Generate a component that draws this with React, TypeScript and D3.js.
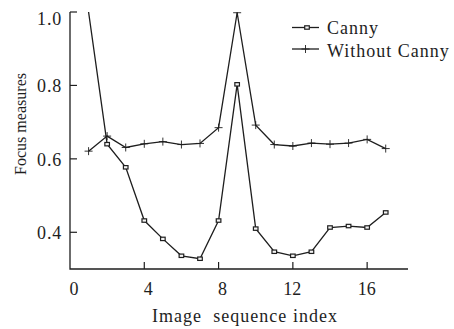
import React from "react";
import * as d3 from "d3";

// Image indices and focus measure values for the two methods
const indices = [1, 2, 3, 4, 5, 6, 7, 8, 9, 10, 11, 12, 13, 14, 15, 16, 17];
const cannyValues = [1.0, 0.64, 0.577, 0.432, 0.382, 0.336, 0.328, 0.432, 0.803, 0.41, 0.347, 0.336, 0.347, 0.413, 0.417, 0.413, 0.454];
const withoutCannyValues = [0.621, 0.662, 0.631, 0.641, 0.647, 0.639, 0.642, 0.685, 0.998, 0.692, 0.639, 0.635, 0.643, 0.64, 0.643, 0.653, 0.628];
const xTicks = [0, 4, 8, 12, 16];
const yTicks = [0.4, 0.6, 0.8, 1.0];
const seriesNames = ["Canny", "Without Canny"];

const W = 454;
const H = 329;
const FONT = "'Liberation Serif', 'Times New Roman', serif";
const INK = "#1e1e1e";

export default function App() {
  const x = d3.scaleLinear().domain([0, 18.2]).range([70, 408]);
  const y = d3.scaleLinear().domain([0.3, 1.0]).range([269, 12]);

  const line = d3
    .line<[number, number]>()
    .x((d) => x(d[0]))
    .y((d) => y(d[1]));

  const canny: [number, number][] = indices.map((i, k) => [i, cannyValues[k]]);
  const plain: [number, number][] = indices.map((i, k) => [i, withoutCannyValues[k]]);

  const square = (cx: number, cy: number, key: string) => (
    <rect key={key} x={cx - 2.3} y={cy - 1.7} width={4.6} height={3.4} fill="#f4f4f4" stroke={INK} strokeWidth={1.2} />
  );
  const plus = (cx: number, cy: number, key: string) => (
    <path key={key} d={`M${cx - 4},${cy}H${cx + 4}M${cx},${cy - 4}V${cy + 4}`} stroke={INK} strokeWidth={0.9} fill="none" />
  );

  return (
    <svg
      width={W}
      height={H}
      style={{ position: "absolute", left: 0, top: 0, background: "#fff" }}
      fontFamily={FONT}
    >
      <defs>
        <clipPath id="plotArea">
          <rect x={70} y={12} width={340} height={258} />
        </clipPath>
      </defs>

      {/* axes */}
      <path d={`M${x(0)},${y(1.0)}V${y(0.3)}H${x(18.2)}`} fill="none" stroke={INK} strokeWidth={1.3} />
      {yTicks.map((t) => (
        <g key={`yt${t}`}>
          <line x1={x(0)} x2={x(0) + 7} y1={y(t)} y2={y(t)} stroke={INK} strokeWidth={1.2} />
          <text
            x={62}
            y={Math.max(y(t) + 7, 25)}
            textAnchor="end"
            fontSize={18}
            letterSpacing={0.8}
            fill={INK}
          >
            {t.toFixed(1)}
          </text>
        </g>
      ))}
      {xTicks.map((t) => (
        <g key={`xt${t}`}>
          {t > 0 && <line x1={x(t)} x2={x(t)} y1={y(0.3)} y2={y(0.3) - 7} stroke={INK} strokeWidth={1.2} />}
          <text x={x(t) + 8.5} y={295} textAnchor="end" fontSize={18} fill={INK}>
            {t}
          </text>
        </g>
      ))}

      {/* axis titles */}
      <text
        x={244.5}
        y={321.5}
        textAnchor="middle"
        fontSize={18}
        fill={INK}
        textLength={185}
        lengthAdjust="spacing"
        style={{ whiteSpace: "pre" }}
      >
        {"Image  sequence index"}
      </text>
      <text
        transform="translate(26,124) rotate(-90)"
        textAnchor="middle"
        fontSize={17}
        fill={INK}
        textLength={102}
        lengthAdjust="spacingAndGlyphs"
      >
        Focus measures
      </text>

      {/* series */}
      <g clipPath="url(#plotArea)">
        <path d={line(plain) ?? ""} fill="none" stroke={INK} strokeWidth={1.3} />
        <path d={line(canny) ?? ""} fill="none" stroke={INK} strokeWidth={1.3} />
        {plain.map((d, k) => plus(x(d[0]), y(d[1]), `p${k}`))}
        {canny.slice(1).map((d, k) => square(x(d[0]), y(d[1]), `c${k}`))}
      </g>

      {/* legend */}
      <g>
        <line x1={292} x2={319} y1={27.5} y2={27.5} stroke={INK} strokeWidth={1.3} />
        {square(307, 27.5, "lc")}
        <text x={327} y={33.5} fontSize={18} letterSpacing={1} fill={INK}>
          {seriesNames[0]}
        </text>
        <line x1={292} x2={319} y1={49} y2={49} stroke={INK} strokeWidth={1.3} />
        {plus(305.5, 49, "lp")}
        <text x={327} y={56.5} fontSize={18} letterSpacing={1} fill={INK}>
          {seriesNames[1]}
        </text>
      </g>
    </svg>
  );
}
